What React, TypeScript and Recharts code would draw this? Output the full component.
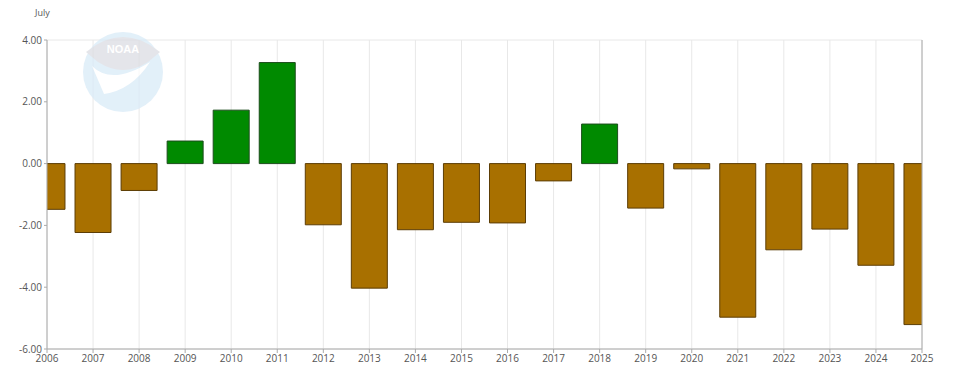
import { BarChart, Bar, XAxis, YAxis, CartesianGrid, Cell } from 'recharts';

// July index by year
const YEARS = [
  2006, 2007, 2008, 2009, 2010, 2011, 2012, 2013, 2014, 2015,
  2016, 2017, 2018, 2019, 2020, 2021, 2022, 2023, 2024, 2025,
];
const VALUES = [
  -1.48, -2.23, -0.87, 0.73, 1.73, 3.27, -1.98, -4.03, -2.14, -1.9,
  -1.92, -0.56, 1.28, -1.44, -0.17, -4.97, -2.79, -2.12, -3.29, -5.21,
];
const Y_TICKS = [-6, -4, -2, 0, 2, 4];

const POS_FILL = '#008a00';
const POS_STROKE = '#1c4d1c';
const NEG_FILL = '#a87000';
const NEG_STROKE = '#5c3d05';

const data = YEARS.map((year, i) => ({ year, value: VALUES[i] }));

const tickStyle = { fontSize: 10, fill: '#555', fontFamily: '"Open Sans", sans-serif' };

function NoaaMark() {
  // faint watermark in the upper left
  return (
    <svg
      width={968}
      height={371}
      style={{ position: 'absolute', left: 0, top: 0, pointerEvents: 'none' }}
    >
      <g opacity={0.75}>
        <circle cx={123} cy={72} r={40} fill="#d9ebf8" />
        <path d="M 86 52 Q 123 22 160 52 L 148 62 Q 123 78 98 62 Z" fill="#dcdde3" />
        <text x={123} y={53} textAnchor="middle" fontSize={11} fontWeight="bold" fill="#ffffff" fontFamily="sans-serif">
          NOAA
        </text>
        <path d="M 92 66 Q 112 86 150 62 Q 132 90 104 94 Z" fill="#ffffff" />
      </g>
    </svg>
  );
}

export default function App() {
  return (
    <div style={{ position: 'absolute', left: 0, top: 0, width: 968, height: 371, background: '#fff' }}>
      <div
        style={{
          position: 'absolute',
          left: 35,
          top: 6,
          fontSize: 9,
          color: '#555',
          fontFamily: '"Open Sans", sans-serif',
        }}
      >
        July
      </div>
      <BarChart
        width={968}
        height={371}
        data={data}
        margin={{ top: 40, right: 6, bottom: 0, left: 7 }}
        barSize={36}
      >
        <CartesianGrid stroke="#e8e8e8" verticalValues={YEARS} />
        <XAxis
          dataKey="year"
          type="number"
          domain={[2006, 2025]}
          ticks={YEARS}
          interval={0}
          allowDataOverflow
          height={22}
          tick={tickStyle}
          tickSize={4}
          stroke="#aaa"
        />
        <YAxis
          yAxisId="left"
          domain={[-6, 4]}
          ticks={Y_TICKS}
          tickFormatter={(v: number) => v.toFixed(2)}
          width={40}
          tick={tickStyle}
          tickSize={3}
          stroke="#aaa"
        />
        <YAxis
          yAxisId="right"
          orientation="right"
          domain={[-6, 4]}
          ticks={Y_TICKS}
          tickFormatter={(v: number) => v.toFixed(2)}
          width={40}
          tick={tickStyle}
          tickSize={3}
          stroke="#aaa"
        />
        <Bar dataKey="value" yAxisId="left" isAnimationActive={false} strokeWidth={1}>
          {data.map((d) => (
            <Cell
              key={d.year}
              fill={d.value >= 0 ? POS_FILL : NEG_FILL}
              stroke={d.value >= 0 ? POS_STROKE : NEG_STROKE}
            />
          ))}
        </Bar>
      </BarChart>
      <NoaaMark />
    </div>
  );
}
